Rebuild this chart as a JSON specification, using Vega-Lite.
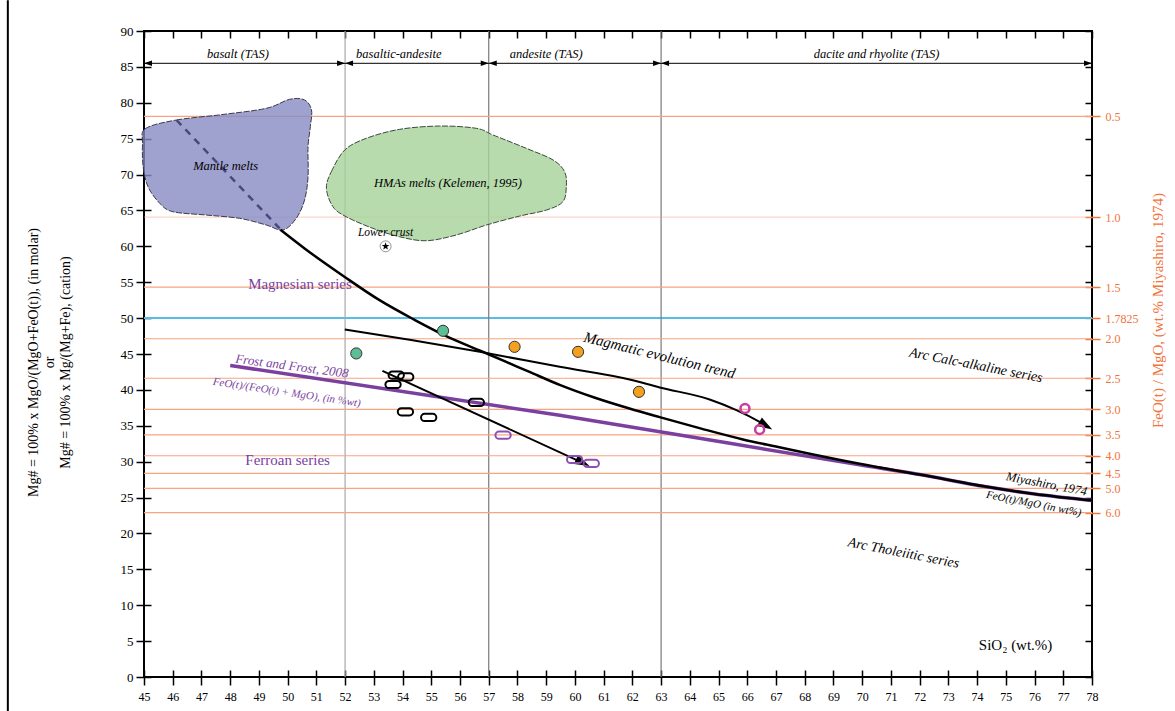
{
  "$schema": "https://vega.github.io/schema/vega-lite/v6.json",
  "width": 948,
  "height": 646,
  "autosize": {"type": "none"},
  "padding": {"left": 144, "top": 31, "right": 83, "bottom": 34},
  "background": "white",
  "config": {
    "view": {"stroke": "black", "strokeWidth": 2},
    "font": "Liberation Serif",
    "axis": {"grid": false, "domainColor": "black", "tickColor": "black", "labelColor": "black", "labelFont": "Liberation Serif", "titleFont": "Liberation Serif", "titleFontWeight": "normal"}
  },
  "resolve": {"scale": {"x": "independent", "y": "independent"}},
  "datasets": {
    "ratio": [
      {"r": "0.5", "mg": 78.095}, {"r": "1.0", "mg": 64.062}, {"r": "1.5", "mg": 54.304},
      {"r": "2.0", "mg": 47.126}, {"r": "2.5", "mg": 41.624}, {"r": "3.0", "mg": 37.272},
      {"r": "3.5", "mg": 33.744}, {"r": "4.0", "mg": 30.826}, {"r": "4.5", "mg": 28.373},
      {"r": "5.0", "mg": 26.281}, {"r": "6.0", "mg": 22.905}
    ],
    "mantle": [
      {"i": 1, "x": 45.05, "y": 76.4}, {"i": 2, "x": 46.13, "y": 77.6}, {"i": 3, "x": 47.75, "y": 78.37},
      {"i": 4, "x": 49.26, "y": 79.23}, {"i": 5, "x": 50.07, "y": 80.48}, {"i": 6, "x": 50.59, "y": 80.39},
      {"i": 7, "x": 50.83, "y": 78.99}, {"i": 8, "x": 50.79, "y": 76.67}, {"i": 9, "x": 50.71, "y": 73.88},
      {"i": 10, "x": 50.71, "y": 69.7}, {"i": 11, "x": 50.59, "y": 66.47}, {"i": 12, "x": 50.3, "y": 63.9},
      {"i": 13, "x": 49.84, "y": 62.27}, {"i": 14, "x": 49.26, "y": 62.97}, {"i": 15, "x": 48.33, "y": 63.9},
      {"i": 16, "x": 47.17, "y": 64.36}, {"i": 17, "x": 46.01, "y": 64.82}, {"i": 18, "x": 45.55, "y": 65.99},
      {"i": 19, "x": 45.14, "y": 68.3}, {"i": 20, "x": 44.97, "y": 71.09}, {"i": 21, "x": 44.95, "y": 74.35}
    ],
    "hma": [
      {"i": 1, "x": 51.35, "y": 68.08}, {"i": 2, "x": 51.52, "y": 70.39}, {"i": 3, "x": 51.99, "y": 73.42},
      {"i": 4, "x": 52.74, "y": 75.05}, {"i": 5, "x": 53.9, "y": 76.3}, {"i": 6, "x": 55.29, "y": 76.76},
      {"i": 7, "x": 56.57, "y": 76.44}, {"i": 8, "x": 57.15, "y": 75.51}, {"i": 9, "x": 58.31, "y": 73.65},
      {"i": 10, "x": 59.24, "y": 72.03}, {"i": 11, "x": 59.64, "y": 70.39}, {"i": 12, "x": 59.7, "y": 68.3},
      {"i": 13, "x": 59.58, "y": 66.21}, {"i": 14, "x": 59.01, "y": 65.06}, {"i": 15, "x": 58.08, "y": 64.22},
      {"i": 16, "x": 56.92, "y": 62.97}, {"i": 17, "x": 55.87, "y": 61.58}, {"i": 18, "x": 54.83, "y": 60.78},
      {"i": 19, "x": 53.9, "y": 61.33}, {"i": 20, "x": 52.97, "y": 62.5}, {"i": 21, "x": 52.04, "y": 64.12},
      {"i": 22, "x": 51.58, "y": 65.51}
    ],
    "miyashiro": [
      {"x": 49.75, "y": 62.3}, {"x": 50.59, "y": 59.7}, {"x": 52.0, "y": 55.7}, {"x": 53.2, "y": 52.5},
      {"x": 54.4, "y": 49.8}, {"x": 55.52, "y": 47.5}, {"x": 56.68, "y": 45.5}, {"x": 57.61, "y": 43.9},
      {"x": 58.42, "y": 42.5}, {"x": 59.47, "y": 40.7}, {"x": 60.7, "y": 38.9}, {"x": 61.9, "y": 37.4},
      {"x": 62.95, "y": 36.2}, {"x": 64.4, "y": 34.6}, {"x": 65.85, "y": 33.1}, {"x": 67.0, "y": 32.1},
      {"x": 68.17, "y": 31.1}, {"x": 69.91, "y": 29.7}, {"x": 72.0, "y": 28.2}, {"x": 74.33, "y": 26.5},
      {"x": 76.0, "y": 25.5}, {"x": 78.0, "y": 24.6}
    ],
    "frost": [
      {"x": 48.0, "y": 43.4}, {"x": 59.47, "y": 36.46}, {"x": 69.91, "y": 29.55}, {"x": 72.0, "y": 28.2},
      {"x": 74.33, "y": 26.5}, {"x": 76.0, "y": 25.5}, {"x": 78.0, "y": 24.6}
    ],
    "trend": [
      {"x": 51.99, "y": 48.42}, {"x": 54.3, "y": 46.95}, {"x": 56.69, "y": 45.3}, {"x": 59.47, "y": 43.21},
      {"x": 61.9, "y": 41.45}, {"x": 62.95, "y": 40.34}, {"x": 64.69, "y": 38.66}, {"x": 65.62, "y": 37.18},
      {"x": 66.43, "y": 35.55}, {"x": 66.75, "y": 34.8}
    ],
    "ranges": [
      {"x": 45, "x2": 52, "y": 85.5}, {"x": 52, "x2": 57, "y": 85.5},
      {"x": 57, "x2": 63, "y": 85.5}, {"x": 63, "x2": 78, "y": 85.5}
    ]
  },
  "layer": [
    {
      "data": {"values": [{"mg": 50}]},
      "mark": {"type": "rule", "stroke": "#55bde8", "strokeWidth": 2},
      "encoding": {
        "y": {"field": "mg", "type": "quantitative", "scale": {"domain": [0, 90], "nice": false},
          "axis": {
            "values": [0, 5, 10, 15, 20, 25, 30, 35, 40, 45, 50, 55, 60, 65, 70, 75, 80, 85, 90],
            "domain": false, "offset": -7, "tickSize": 15, "tickWidth": 1.5, "labelFontSize": 13, "labelPadding": 3,
            "labelFlush": false, "labelOverlap": false,
            "title": ["Mg# = 100% x MgO/(MgO+FeO(t)), (in molar)", "or", "Mg# = 100% x Mg/(Mg+Fe), (cation)"],
            "titleFontSize": 14, "titleAngle": 270, "titleX": -118, "titleY": 331,
            "titleAlign": "center", "titleBaseline": "middle"
          }
        }
      }
    },
    {
      "data": {"values": [{"x": 52}, {"x": 57}, {"x": 63}]},
      "mark": {"type": "rule", "strokeWidth": 1.2},
      "encoding": {
        "x": {"field": "x", "type": "quantitative", "scale": {"domain": [45, 78], "nice": false},
          "axis": {
            "values": [45, 46, 47, 48, 49, 50, 51, 52, 53, 54, 55, 56, 57, 58, 59, 60, 61, 62, 63, 64, 65, 66, 67, 68, 69, 70, 71, 72, 73, 74, 75, 76, 77, 78],
            "domain": false, "offset": -7, "tickSize": 15, "tickWidth": 1.5, "labelFontSize": 12, "labelPadding": 6,
            "labelFlush": false, "labelOverlap": false, "title": null
          }
        },
        "color": {"condition": {"test": "datum.x == 52", "value": "#a8a8a8"}, "value": "#7a7a7a"}
      }
    },
    {
      "data": {"name": "ranges"},
      "mark": {"type": "rule", "color": "black", "strokeWidth": 1},
      "encoding": {
        "x": {"field": "x", "type": "quantitative", "scale": {"domain": [45, 78], "nice": false},
          "axis": {"values": [45, 46, 47, 48, 49, 50, 51, 52, 53, 54, 55, 56, 57, 58, 59, 60, 61, 62, 63, 64, 65, 66, 67, 68, 69, 70, 71, 72, 73, 74, 75, 76, 77, 78], "labels": false, "domain": false, "offset": -7, "tickSize": 7, "tickWidth": 1.5, "title": null}
        },
        "x2": {"field": "x2"},
        "y": {"field": "y", "type": "quantitative", "scale": {"domain": [0, 90], "nice": false},
          "axis": {
            "values": [0, 5, 10, 15, 20, 25, 30, 35, 40, 45, 55, 60, 65, 70, 75, 80, 85, 90, 78.095, 64.062, 54.304, 50, 47.126, 41.624, 37.272, 33.744, 30.826, 28.373, 26.281, 22.905],
            "labelExpr": "(datum.value == 50) ? '1.7825' : (datum.value == round(datum.value)) ? '' : datum.value > 70 ? '0.5' : datum.value > 60 ? '1.0' : datum.value > 52 ? '1.5' : datum.value > 45 ? '2.0' : datum.value > 40 ? '2.5' : datum.value > 35 ? '3.0' : datum.value > 32 ? '3.5' : datum.value > 29.5 ? '4.0' : datum.value > 27.5 ? '4.5' : datum.value > 25 ? '5.0' : '6.0'",
            "labelColor": "#f0743c", "labelFontSize": 12, "labelPadding": 5, "labelOverlap": false, "labelFlush": false,
            "tickColor": {"condition": {"test": "datum.value == round(datum.value) && datum.value != 50", "value": "black"}, "value": "#f0743c"},
            "tickSize": {"condition": {"test": "datum.value == round(datum.value) && datum.value != 50", "value": 7}, "value": 15},
            "tickWidth": 1.5, "domain": false, "offset": -7,
            "title": "FeO(t) / MgO, (wt.% Miyashiro, 1974)", "titleColor": "#f0743c", "titleFontSize": 15,
            "titleAngle": 270, "titleX": 72, "titleY": 279, "titleAlign": "center", "titleBaseline": "middle"
          }
        }
      }
    },
    {
      "data": {"values": [{"x": 40.26, "y": -4.8, "y2": 94.3}]},
      "mark": {"type": "rule", "color": "black", "strokeWidth": 2},
      "encoding": {
        "x": {"field": "x", "type": "quantitative", "scale": {"domain": [45, 78], "nice": false}, "axis": null},
        "y": {"field": "y", "type": "quantitative", "scale": {"domain": [0, 90], "nice": false}, "axis": null},
        "y2": {"field": "y2"}
      }
    },
    {
      "data": {"name": "ratio"},
      "mark": {"type": "rule", "stroke": "#f6a583", "strokeWidth": 1.2},
      "encoding": {
        "y": {"field": "mg", "type": "quantitative", "scale": {"domain": [0, 90], "nice": false}, "axis": null},
        "strokeOpacity": {"condition": {"test": "datum.r == '1.0'", "value": 0.45}, "value": 1}
      }
    },
    {
      "data": {"name": "ranges"},
      "mark": {"type": "point", "shape": "M 0,0 L 2,-0.7 L 2,0.7 Z", "size": 64, "filled": true, "color": "black", "opacity": 1},
      "encoding": {
        "x": {"field": "x", "type": "quantitative", "scale": {"domain": [45, 78], "nice": false}, "axis": null},
        "y": {"field": "y", "type": "quantitative", "scale": {"domain": [0, 90], "nice": false}, "axis": null}
      }
    },
    {
      "data": {"name": "ranges"},
      "mark": {"type": "point", "shape": "M 0,0 L -2,-0.7 L -2,0.7 Z", "size": 64, "filled": true, "color": "black", "opacity": 1},
      "encoding": {
        "x": {"field": "x2", "type": "quantitative", "scale": {"domain": [45, 78], "nice": false}, "axis": null},
        "y": {"field": "y", "type": "quantitative", "scale": {"domain": [0, 90], "nice": false}, "axis": null}
      }
    },
    {
      "data": {"values": [{"x": 48.27, "y": 86.8, "t": "basalt (TAS)"}, {"x": 53.87, "y": 86.8, "t": "basaltic-andesite"}, {"x": 59.0, "y": 86.8, "t": "andesite (TAS)"}, {"x": 70.5, "y": 86.8, "t": "dacite and rhyolite (TAS)"}]},
      "mark": {"type": "text", "font": "Liberation Serif", "fontStyle": "italic", "fontSize": 12.5, "color": "black", "align": "center", "baseline": "middle"},
      "encoding": {
        "x": {"field": "x", "type": "quantitative", "scale": {"domain": [45, 78], "nice": false}, "axis": null},
        "y": {"field": "y", "type": "quantitative", "scale": {"domain": [0, 90], "nice": false}, "axis": null},
        "text": {"field": "t"}
      }
    },
    {
      "data": {"name": "mantle"},
      "mark": {"type": "line", "interpolate": "cardinal-closed", "fill": "#8789c3", "fillOpacity": 0.8, "stroke": "#3a3a4a", "strokeWidth": 1, "strokeDash": [6, 1.5]},
      "encoding": {
        "x": {"field": "x", "type": "quantitative", "scale": {"domain": [45, 78], "nice": false}, "axis": null},
        "y": {"field": "y", "type": "quantitative", "scale": {"domain": [0, 90], "nice": false}, "axis": null},
        "order": {"field": "i", "type": "quantitative"}
      }
    },
    {
      "data": {"name": "hma"},
      "mark": {"type": "line", "interpolate": "cardinal-closed", "fill": "#a6d29a", "fillOpacity": 0.8, "stroke": "#3a4a3a", "strokeWidth": 1, "strokeDash": [6, 1.5]},
      "encoding": {
        "x": {"field": "x", "type": "quantitative", "scale": {"domain": [45, 78], "nice": false}, "axis": null},
        "y": {"field": "y", "type": "quantitative", "scale": {"domain": [0, 90], "nice": false}, "axis": null},
        "order": {"field": "i", "type": "quantitative"}
      }
    },
    {
      "data": {"name": "frost"},
      "mark": {"type": "line", "stroke": "#7b3fa0", "strokeWidth": 3.5, "interpolate": "monotone"},
      "encoding": {
        "x": {"field": "x", "type": "quantitative", "scale": {"domain": [45, 78], "nice": false}, "axis": null},
        "y": {"field": "y", "type": "quantitative", "scale": {"domain": [0, 90], "nice": false}, "axis": null}
      }
    },
    {
      "data": {"values": [{"x": 46.13, "y": 77.6}, {"x": 49.72, "y": 62.5}]},
      "mark": {"type": "line", "stroke": "#48487e", "strokeWidth": 2.5, "strokeDash": [7, 6]},
      "encoding": {
        "x": {"field": "x", "type": "quantitative", "scale": {"domain": [45, 78], "nice": false}, "axis": null},
        "y": {"field": "y", "type": "quantitative", "scale": {"domain": [0, 90], "nice": false}, "axis": null}
      }
    },
    {
      "data": {"name": "miyashiro"},
      "mark": {"type": "line", "stroke": "black", "strokeWidth": 2.5, "interpolate": "monotone"},
      "encoding": {
        "x": {"field": "x", "type": "quantitative", "scale": {"domain": [45, 78], "nice": false}, "axis": null},
        "y": {"field": "y", "type": "quantitative", "scale": {"domain": [0, 90], "nice": false}, "axis": null}
      }
    },
    {
      "data": {"name": "trend"},
      "mark": {"type": "line", "stroke": "black", "strokeWidth": 2, "interpolate": "monotone"},
      "encoding": {
        "x": {"field": "x", "type": "quantitative", "scale": {"domain": [45, 78], "nice": false}, "axis": null},
        "y": {"field": "y", "type": "quantitative", "scale": {"domain": [0, 90], "nice": false}, "axis": null}
      }
    },
    {
      "data": {"values": [{"x": 53.3, "y": 42.65}, {"x": 60.35, "y": 29.7}]},
      "mark": {"type": "line", "stroke": "black", "strokeWidth": 2},
      "encoding": {
        "x": {"field": "x", "type": "quantitative", "scale": {"domain": [45, 78], "nice": false}, "axis": null},
        "y": {"field": "y", "type": "quantitative", "scale": {"domain": [0, 90], "nice": false}, "axis": null}
      }
    },
    {
      "data": {"values": [{"x": 66.87, "y": 34.48}]},
      "mark": {"type": "point", "shape": "M 0,0 L -2,-0.65 L -2,0.65 Z", "size": 225, "angle": 31, "filled": true, "color": "black", "opacity": 1},
      "encoding": {
        "x": {"field": "x", "type": "quantitative", "scale": {"domain": [45, 78], "nice": false}, "axis": null},
        "y": {"field": "y", "type": "quantitative", "scale": {"domain": [0, 90], "nice": false}, "axis": null}
      }
    },
    {
      "data": {"values": [{"x": 60.51, "y": 29.41}]},
      "mark": {"type": "point", "shape": "M 0,0 L -2,-0.65 L -2,0.65 Z", "size": 225, "angle": 24.6, "filled": true, "color": "black", "opacity": 1},
      "encoding": {
        "x": {"field": "x", "type": "quantitative", "scale": {"domain": [45, 78], "nice": false}, "axis": null},
        "y": {"field": "y", "type": "quantitative", "scale": {"domain": [0, 90], "nice": false}, "axis": null}
      }
    },
    {
      "data": {"values": [{"x": 53.78, "y": 42.05}, {"x": 54.11, "y": 41.8}, {"x": 53.67, "y": 40.75}, {"x": 54.1, "y": 36.94}, {"x": 54.91, "y": 36.16}, {"x": 56.57, "y": 38.25}]},
      "mark": {"type": "point", "shape": "M -0.45,-0.4 L 0.45,-0.4 A 0.4,0.4 0 0 1 0.45,0.4 L -0.45,0.4 A 0.4,0.4 0 0 1 -0.45,-0.4 Z", "size": 324, "filled": false, "stroke": "black", "strokeWidth": 2, "opacity": 1},
      "encoding": {
        "x": {"field": "x", "type": "quantitative", "scale": {"domain": [45, 78], "nice": false}, "axis": null},
        "y": {"field": "y", "type": "quantitative", "scale": {"domain": [0, 90], "nice": false}, "axis": null}
      }
    },
    {
      "data": {"values": [{"x": 57.5, "y": 33.69}, {"x": 59.99, "y": 30.3}, {"x": 60.57, "y": 29.75}]},
      "mark": {"type": "point", "shape": "M -0.45,-0.4 L 0.45,-0.4 A 0.4,0.4 0 0 1 0.45,0.4 L -0.45,0.4 A 0.4,0.4 0 0 1 -0.45,-0.4 Z", "size": 324, "filled": false, "stroke": "#8e4fb5", "strokeWidth": 2, "opacity": 1},
      "encoding": {
        "x": {"field": "x", "type": "quantitative", "scale": {"domain": [45, 78], "nice": false}, "axis": null},
        "y": {"field": "y", "type": "quantitative", "scale": {"domain": [0, 90], "nice": false}, "axis": null}
      }
    },
    {
      "data": {"values": [{"x": 52.39, "y": 45.08}, {"x": 55.41, "y": 48.23}]},
      "mark": {"type": "point", "shape": "circle", "size": 125, "filled": true, "fill": "#5fbd95", "stroke": "#333333", "strokeWidth": 1, "opacity": 1},
      "encoding": {
        "x": {"field": "x", "type": "quantitative", "scale": {"domain": [45, 78], "nice": false}, "axis": null},
        "y": {"field": "y", "type": "quantitative", "scale": {"domain": [0, 90], "nice": false}, "axis": null}
      }
    },
    {
      "data": {"values": [{"x": 57.9, "y": 46.0}, {"x": 60.11, "y": 45.3}, {"x": 62.23, "y": 39.73}]},
      "mark": {"type": "point", "shape": "circle", "size": 125, "filled": true, "fill": "#f5a01f", "stroke": "#333333", "strokeWidth": 1, "opacity": 1},
      "encoding": {
        "x": {"field": "x", "type": "quantitative", "scale": {"domain": [45, 78], "nice": false}, "axis": null},
        "y": {"field": "y", "type": "quantitative", "scale": {"domain": [0, 90], "nice": false}, "axis": null}
      }
    },
    {
      "data": {"values": [{"x": 65.92, "y": 37.41}, {"x": 66.43, "y": 34.48}]},
      "mark": {"type": "point", "shape": "circle", "size": 80, "filled": false, "stroke": "#c43f9e", "strokeWidth": 2.5, "opacity": 1},
      "encoding": {
        "x": {"field": "x", "type": "quantitative", "scale": {"domain": [45, 78], "nice": false}, "axis": null},
        "y": {"field": "y", "type": "quantitative", "scale": {"domain": [0, 90], "nice": false}, "axis": null}
      }
    },
    {
      "data": {"values": [{"x": 53.41, "y": 60.0}]},
      "mark": {"type": "point", "shape": "circle", "size": 120, "filled": true, "fill": "white", "stroke": "#777777", "strokeWidth": 0.8, "opacity": 1},
      "encoding": {
        "x": {"field": "x", "type": "quantitative", "scale": {"domain": [45, 78], "nice": false}, "axis": null},
        "y": {"field": "y", "type": "quantitative", "scale": {"domain": [0, 90], "nice": false}, "axis": null}
      }
    },
    {
      "data": {"values": [{"x": 53.41, "y": 60.0}]},
      "mark": {"type": "point", "shape": "M 0,-1 L 0.235,-0.324 L 0.951,-0.309 L 0.38,0.124 L 0.588,0.809 L 0,0.4 L -0.588,0.809 L -0.38,0.124 L -0.951,-0.309 L -0.235,-0.324 Z", "size": 64, "filled": true, "color": "black", "opacity": 1},
      "encoding": {
        "x": {"field": "x", "type": "quantitative", "scale": {"domain": [45, 78], "nice": false}, "axis": null},
        "y": {"field": "y", "type": "quantitative", "scale": {"domain": [0, 90], "nice": false}, "axis": null}
      }
    },
    {
      "data": {"values": [{"x": 47.84, "y": 71.2, "t": "Mantle melts"}, {"x": 55.58, "y": 68.86, "t": "HMAs melts (Kelemen, 1995)"}]},
      "mark": {"type": "text", "font": "Liberation Serif", "fontStyle": "italic", "fontSize": 12.5, "color": "black", "align": "center", "baseline": "middle"},
      "encoding": {
        "x": {"field": "x", "type": "quantitative", "scale": {"domain": [45, 78], "nice": false}, "axis": null},
        "y": {"field": "y", "type": "quantitative", "scale": {"domain": [0, 90], "nice": false}, "axis": null},
        "text": {"field": "t"}
      }
    },
    {
      "data": {"values": [{"x": 53.41, "y": 61.8, "t": "Lower crust"}]},
      "mark": {"type": "text", "font": "Liberation Serif", "fontStyle": "italic", "fontSize": 11.5, "color": "black", "align": "center", "baseline": "middle"},
      "encoding": {
        "x": {"field": "x", "type": "quantitative", "scale": {"domain": [45, 78], "nice": false}, "axis": null},
        "y": {"field": "y", "type": "quantitative", "scale": {"domain": [0, 90], "nice": false}, "axis": null},
        "text": {"field": "t"}
      }
    },
    {
      "data": {"values": [{"x": 50.43, "y": 54.8, "t": "Magnesian series"}, {"x": 50.0, "y": 30.2, "t": "Ferroan series"}]},
      "mark": {"type": "text", "font": "Liberation Serif", "fontSize": 15, "color": "#7b3fa0", "align": "center", "baseline": "middle"},
      "encoding": {
        "x": {"field": "x", "type": "quantitative", "scale": {"domain": [45, 78], "nice": false}, "axis": null},
        "y": {"field": "y", "type": "quantitative", "scale": {"domain": [0, 90], "nice": false}, "axis": null},
        "text": {"field": "t"}
      }
    },
    {
      "data": {"values": [{"x": 50.15, "y": 43.3, "t": "Frost and Frost, 2008"}]},
      "mark": {"type": "text", "font": "Liberation Serif", "fontStyle": "italic", "fontSize": 13, "color": "#7b3fa0", "align": "center", "baseline": "middle", "angle": 7.5},
      "encoding": {
        "x": {"field": "x", "type": "quantitative", "scale": {"domain": [45, 78], "nice": false}, "axis": null},
        "y": {"field": "y", "type": "quantitative", "scale": {"domain": [0, 90], "nice": false}, "axis": null},
        "text": {"field": "t"}
      }
    },
    {
      "data": {"values": [{"x": 49.97, "y": 39.6, "t": "FeO(t)/(FeO(t) + MgO), (in %wt)"}]},
      "mark": {"type": "text", "font": "Liberation Serif", "fontStyle": "italic", "fontSize": 11, "color": "#7b3fa0", "align": "center", "baseline": "middle", "angle": 8.5},
      "encoding": {
        "x": {"field": "x", "type": "quantitative", "scale": {"domain": [45, 78], "nice": false}, "axis": null},
        "y": {"field": "y", "type": "quantitative", "scale": {"domain": [0, 90], "nice": false}, "axis": null},
        "text": {"field": "t"}
      }
    },
    {
      "data": {"values": [{"x": 62.95, "y": 44.83, "t": "Magmatic evolution trend"}]},
      "mark": {"type": "text", "font": "Liberation Serif", "fontStyle": "italic", "fontSize": 15, "color": "black", "align": "center", "baseline": "middle", "angle": 13.8},
      "encoding": {
        "x": {"field": "x", "type": "quantitative", "scale": {"domain": [45, 78], "nice": false}, "axis": null},
        "y": {"field": "y", "type": "quantitative", "scale": {"domain": [0, 90], "nice": false}, "axis": null},
        "text": {"field": "t"}
      }
    },
    {
      "data": {"values": [{"x": 73.96, "y": 43.4, "t": "Arc Calc-alkaline series"}, {"x": 71.44, "y": 17.25, "t": "Arc Tholeiitic series"}]},
      "mark": {"type": "text", "font": "Liberation Serif", "fontStyle": "italic", "fontSize": 14, "color": "black", "align": "center", "baseline": "middle", "angle": 11},
      "encoding": {
        "x": {"field": "x", "type": "quantitative", "scale": {"domain": [45, 78], "nice": false}, "axis": null},
        "y": {"field": "y", "type": "quantitative", "scale": {"domain": [0, 90], "nice": false}, "axis": null},
        "text": {"field": "t"}
      }
    },
    {
      "data": {"values": [{"x": 76.42, "y": 26.9, "t": "Miyashiro, 1974"}]},
      "mark": {"type": "text", "font": "Liberation Serif", "fontStyle": "italic", "fontSize": 12.5, "color": "black", "align": "center", "baseline": "middle", "angle": 11},
      "encoding": {
        "x": {"field": "x", "type": "quantitative", "scale": {"domain": [45, 78], "nice": false}, "axis": null},
        "y": {"field": "y", "type": "quantitative", "scale": {"domain": [0, 90], "nice": false}, "axis": null},
        "text": {"field": "t"}
      }
    },
    {
      "data": {"values": [{"x": 75.97, "y": 24.1, "t": "FeO(t)/MgO (in wt%)"}]},
      "mark": {"type": "text", "font": "Liberation Serif", "fontStyle": "italic", "fontSize": 11, "color": "black", "align": "center", "baseline": "middle", "angle": 11},
      "encoding": {
        "x": {"field": "x", "type": "quantitative", "scale": {"domain": [45, 78], "nice": false}, "axis": null},
        "y": {"field": "y", "type": "quantitative", "scale": {"domain": [0, 90], "nice": false}, "axis": null},
        "text": {"field": "t"}
      }
    },
    {
      "data": {"values": [{"x": 75.34, "y": 4.42, "t": "SiO₂ (wt.%)"}]},
      "mark": {"type": "text", "font": "Liberation Serif", "fontSize": 15, "color": "black", "align": "center", "baseline": "middle"},
      "encoding": {
        "x": {"field": "x", "type": "quantitative", "scale": {"domain": [45, 78], "nice": false}, "axis": null},
        "y": {"field": "y", "type": "quantitative", "scale": {"domain": [0, 90], "nice": false}, "axis": null},
        "text": {"field": "t"}
      }
    }
  ]
}
